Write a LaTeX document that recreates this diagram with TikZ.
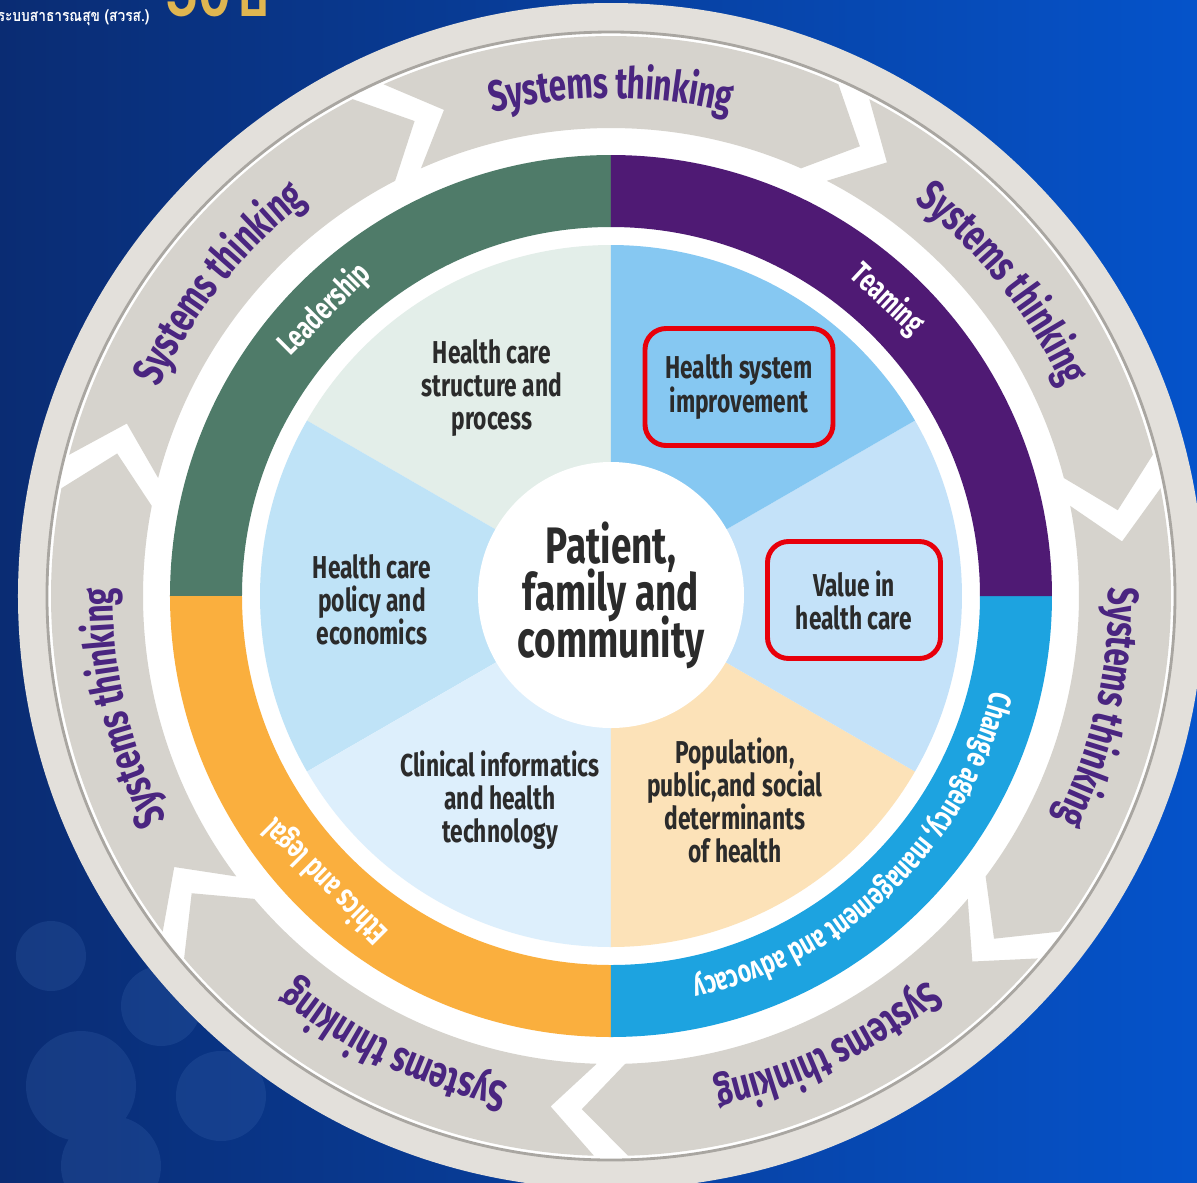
\documentclass[tikz,border=0pt]{standalone}
\usepackage{fontspec}
\setmainfont{Fira Sans}[FakeStretch=0.72]
\newfontfamily\thaifont[Script=Thai, FakeStretch=0.85]{Loma}
\usetikzlibrary{decorations.text}

\definecolor{bgdeep}{HTML}{0A2C73}
\definecolor{bgbright}{HTML}{0553CA}
\definecolor{bgpale}{HTML}{3A66AE}
\definecolor{gold}{HTML}{E0B650}
\definecolor{rim}{HTML}{E3E0DB}
\definecolor{rimline}{HTML}{A9A6A1}
\definecolor{arrowgray}{HTML}{D6D3CD}
\definecolor{leadgreen}{HTML}{4F7B69}
\definecolor{teampurple}{HTML}{4F1A74}
\definecolor{ethicsorange}{HTML}{FAAF3E}
\definecolor{changeblue}{HTML}{1DA3E0}
\definecolor{secsage}{HTML}{E3EEE9}
\definecolor{secsky}{HTML}{BFE3F7}
\definecolor{secice}{HTML}{DDEFFC}
\definecolor{secpeach}{HTML}{FCE2B8}
\definecolor{secmist}{HTML}{C4E2F9}
\definecolor{secazure}{HTML}{86C8F2}
\definecolor{inkgray}{HTML}{2B2B2B}
\definecolor{stpurple}{HTML}{4A2580}
\definecolor{markred}{HTML}{E8000B}

\newcommand\systxt{\bfseries\fontsize{12.4}{13}\selectfont\color{stpurple}}
\newcommand\bandtxt{\bfseries\fontsize{9}{9}\selectfont\color{white}}
\newcommand\tightlines{\lineskiplimit=-20pt\relax}

\tikzstyle{sector text} = [align=center, text=inkgray, font=\bfseries\fontsize{9}{9.4}\selectfont\tightlines, inner sep=0pt]
\tikzstyle{hilite} = [draw=markred, line width=1.4pt, rounded corners=6pt]
\tikzstyle{band text} = [text=white, font=\bfseries\fontsize{9}{9}\selectfont, inner sep=0pt]

\begin{document}
\begin{tikzpicture}
    \useasboundingbox (-6.11,-5.86) rectangle (5.86,5.96);
    \clip (-6.11,-5.86) rectangle (5.86,5.96);
    % backdrop
    \shade[left color=bgdeep, right color=bgbright] (-6.11,-5.86) rectangle (5.86,5.96);
    \fill[bgpale, opacity=0.25] (-5.3,-4.9) circle (0.55) (-5.6,-3.6) circle (0.35) (-4.5,-4.1) circle (0.4) (-3.9,-5.0) circle (0.45) (-5.0,-5.7) circle (0.5);
    \node[anchor=base west, text=white, font=\thaifont\bfseries\fontsize{4.6}{5}\selectfont, inner sep=0pt] (header) at (-6.14,5.75) {ระบบสาธารณสุข (สวรส.)};
    \node[anchor=base west, text=gold, font=\thaifont\bfseries\fontsize{20}{20}\selectfont, inner sep=0pt] (years) at (-4.46,5.8) {30ปี};

    % outer disc and the systems thinking arrows
    \fill[rim] (0,0) circle (5.93);
    \fill[white] (0,0) circle (5.64);
    \draw[rimline, line width=0.8pt] (0,0) circle (5.64);
    \foreach \a in {90,38.57,-12.86,-64.29,-115.71,-167.14,141.43} {
        \pgfmathsetmacro\tailA{\a+25.71-1.75}
        \pgfmathsetmacro\headA{\a-25.71+1.75}
        \fill[arrowgray] (\tailA:5.6) arc[start angle=\tailA, end angle=\headA, radius=5.6]
            -- ({\headA-5}:5.14) -- (\headA:4.68)
            arc[start angle=\headA, end angle=\tailA, radius=4.68]
            -- ({\tailA-5}:5.14) -- cycle;
        \path[decorate, decoration={text along path, text align=center, raise=-4.3pt,
            text={|\systxt|Systems thinking}}]
            ({\a+22}:5.13) arc[start angle=\a+22, end angle=\a-22, radius=5.13];
    }

    % competency ring
    \fill[leadgreen] (90:4.41) arc[start angle=90, end angle=180, radius=4.41] -- (180:3.69) arc[start angle=180, end angle=90, radius=3.69] -- cycle;
    \fill[ethicsorange] (180:4.41) arc[start angle=180, end angle=270, radius=4.41] -- (270:3.69) arc[start angle=270, end angle=180, radius=3.69] -- cycle;
    \fill[changeblue] (270:4.41) arc[start angle=270, end angle=360, radius=4.41] -- (0:3.69) arc[start angle=360, end angle=270, radius=3.69] -- cycle;
    \fill[teampurple] (0:4.41) arc[start angle=0, end angle=90, radius=4.41] -- (90:3.69) arc[start angle=90, end angle=0, radius=3.69] -- cycle;
    \node[band text, rotate=45] (lead) at (135:4.05) {Leadership};
    \node[band text, rotate=-43] (team) at (47:4.05) {Teaming};
    \node[band text, rotate=135] (ethics) at (225:4.03) {Ethics and legal};
    \path[decorate, decoration={text along path, text align=center, raise=-3pt,
        text={|\bandtxt|Change agency, management and advocacy}}]
        (0:4.03) arc[start angle=0, end angle=-92, radius=4.03];

    % knowledge sectors
    \foreach \s/\c in {90/secsage, 150/secsky, 210/secice, 270/secpeach, 330/secmist, 30/secazure}
        \fill[\c] (0,0) -- (\s:3.51) arc[start angle=\s, end angle=\s+60, radius=3.51] -- cycle;

    \node[circle, fill=white, minimum size=2.66cm, inner sep=0pt, align=center, text=inkgray,
        font=\bfseries\fontsize{14.6}{13.4}\selectfont\tightlines] (core) at (0,0.01) {Patient,\\family and\\community};
    \node[sector text] (structure) at (-1.19,2.08) {Health care\\structure and\\process};
    \node[sector text, hilite, minimum width=1.88cm, minimum height=1.17cm] (improve) at (1.28,2.09) {Health system\\improvement};
    \node[sector text] (policy) at (-2.39,-0.04) {Health care\\policy and\\economics};
    \node[sector text, hilite, minimum width=1.73cm, minimum height=1.17cm] (value) at (2.43,-0.04) {Value in\\health care};
    \node[sector text] (clinical) at (-1.11,-2.04) {Clinical informatics\\and health\\technology};
    \node[sector text] (population) at (1.24,-2.04) {Population,\\public,and social\\determinants\\of health};
\end{tikzpicture}
\end{document}
